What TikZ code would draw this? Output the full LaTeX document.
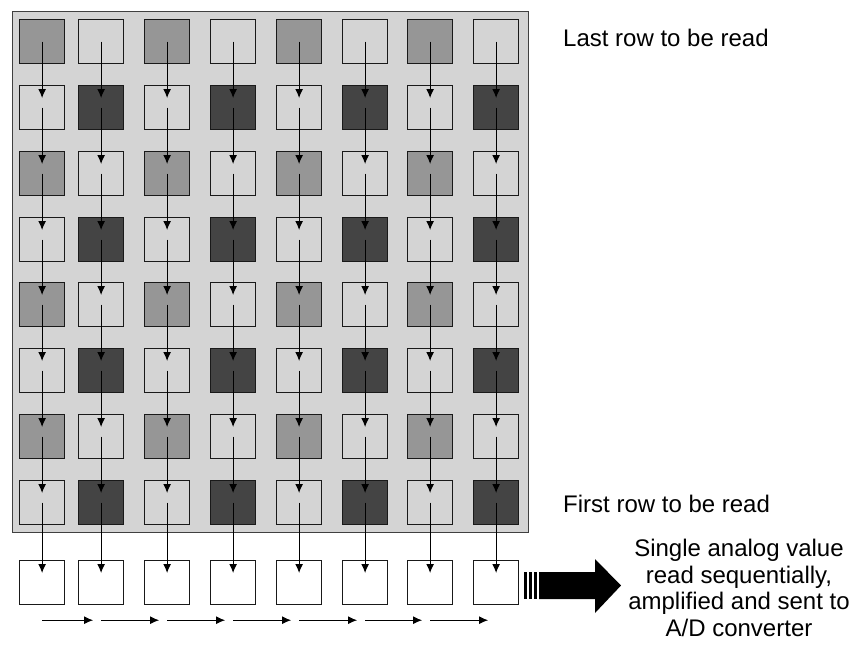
\documentclass[tikz,border=0pt]{standalone}
\usepackage{fontspec}
\setmainfont{Liberation Sans}
\usetikzlibrary{arrows.meta}
\definecolor{bgray}{HTML}{D4D4D4}
\definecolor{mgray}{HTML}{969696}
\definecolor{dgray}{HTML}{444444}
\begin{document}
\begin{tikzpicture}[x=1pt,y=-1pt,
  cell/.style={draw=black!90,line width=1.2pt,minimum width=45pt,minimum height=44pt,inner sep=0pt,anchor=north west},
  varr/.style={line width=1.1pt,-{Latex[length=9pt,width=8pt]}},
  harr/.style={line width=1.1pt,-{Latex[length=9pt,width=8pt]}},
  lbl/.style={font=\fontsize{24}{26.5}\selectfont,inner sep=0pt}]
\useasboundingbox (0,0) rectangle (856,646);
\node[draw=black!75,fill=bgray,line width=1pt,minimum width=516pt,minimum height=521pt,anchor=north west,inner sep=0pt] (panel) at (12,11) {};
\foreach \r in {0,...,7}{
  \foreach \c in {0,...,7}{
    \pgfmathsetmacro\xx{{19,78,144,210,276,342,407,473}[\c]}
    \pgfmathsetmacro\yy{{19,85,151,217,282,348,414,480}[\r]}
    \pgfmathtruncatemacro\t{mod(\r,2)*2+mod(\c,2)}
    \ifcase\t \def\fc{mgray}\or \def\fc{bgray}\or \def\fc{bgray}\or \def\fc{dgray}\fi
    \node[cell,fill=\fc] (b-\r-\c) at (\xx,\yy) {};
  }
}
\foreach \c in {0,...,7}{
  \pgfmathsetmacro\xx{{19,78,144,210,276,342,407,473}[\c]}
  \node[cell,fill=white] (b-8-\c) at (\xx,560) {};
  \coordinate (h-\c) at ([yshift=-15pt]b-8-\c.south);
}
\foreach \r in {0,...,7}{
  \foreach \c in {0,...,7}{
    \pgfmathtruncatemacro\rn{\r+1}
    \draw[varr] (b-\r-\c.center) -- ([yshift=-13pt]b-\rn-\c.north);
  }
}
\foreach \c in {0,...,6}{
  \pgfmathtruncatemacro\cn{\c+1}
  \draw[harr] (h-\c) -- ([xshift=-8pt]h-\cn);
}
% big arrow
\fill (524,572) rectangle (527,599);
\fill (529,572) rectangle (532,599);
\fill (534,572) rectangle (537,599);
\fill (539,572) -- (595,572) -- (595,559) -- (621,585.5) -- (595,613) -- (595,599) -- (539,599) -- cycle;
\node[lbl,anchor=base west] (last) at (563,46) {Last row to be read};
\node[lbl,anchor=base west] (first) at (563,512) {First row to be read};
\node[lbl,anchor=base,align=center] (desc) at (739,636) {Single analog value\\read sequentially,\\amplified and sent to\\A/D converter};
\end{tikzpicture}
\end{document}
